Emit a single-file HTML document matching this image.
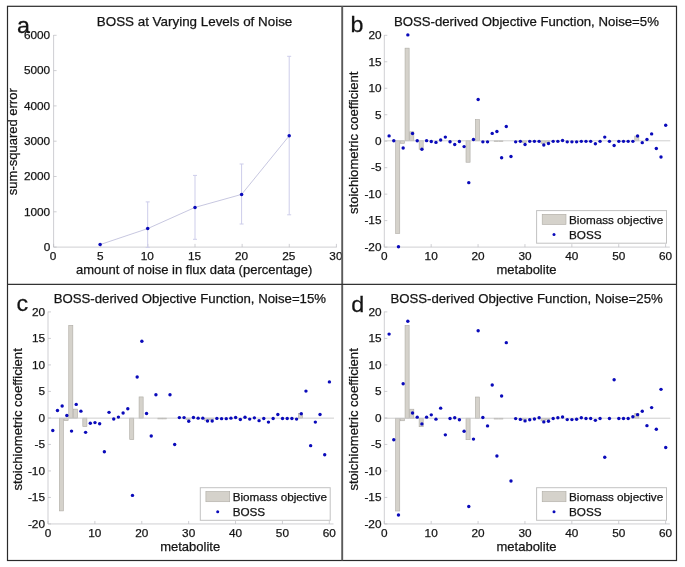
<!DOCTYPE html>
<html lang="en">
<head>
<meta charset="utf-8">
<title>BOSS at Varying Levels of Noise</title>
<style>
html,body{margin:0;padding:0;background:#fff;}
body{width:685px;height:567px;overflow:hidden;font-family:"Liberation Sans", Arial, Helvetica, sans-serif;}
svg{display:block;}
svg text{font-family:"Liberation Sans", Arial, Helvetica, sans-serif;fill:#141414;stroke:#141414;stroke-width:0.25px;}
</style>
</head>
<body>
<svg width="685" height="567" viewBox="0 0 685 567">
<rect width="685" height="567" fill="#fff"/>
<g stroke="#bfbfc4" stroke-width="0.75" fill="none">
<path d="M53.6 35.0V247.1H336.79999999999995"/>
<path d="M53.60 247.1v-3.2"/>
<path d="M100.73 247.1v-3.2"/>
<path d="M147.87 247.1v-3.2"/>
<path d="M195.00 247.1v-3.2"/>
<path d="M242.13 247.1v-3.2"/>
<path d="M289.27 247.1v-3.2"/>
<path d="M336.40 247.1v-3.2"/>
<path d="M53.6 247.10h3"/>
<path d="M53.6 211.80h3"/>
<path d="M53.6 176.50h3"/>
<path d="M53.6 141.20h3"/>
<path d="M53.6 105.90h3"/>
<path d="M53.6 70.60h3"/>
<path d="M53.6 35.30h3"/>
</g>
<text x="53.10" y="259.80" font-size="11.8" text-anchor="middle" >0</text>
<text x="100.23" y="259.80" font-size="11.8" text-anchor="middle" >5</text>
<text x="147.37" y="259.80" font-size="11.8" text-anchor="middle" >10</text>
<text x="194.50" y="259.80" font-size="11.8" text-anchor="middle" >15</text>
<text x="241.63" y="259.80" font-size="11.8" text-anchor="middle" >20</text>
<text x="288.77" y="259.80" font-size="11.8" text-anchor="middle" >25</text>
<text x="335.90" y="259.80" font-size="11.8" text-anchor="middle" >30</text>
<text x="50.20" y="250.90" font-size="11.8" text-anchor="end" >0</text>
<text x="50.20" y="215.60" font-size="11.8" text-anchor="end" >1000</text>
<text x="50.20" y="180.30" font-size="11.8" text-anchor="end" >2000</text>
<text x="50.20" y="145.00" font-size="11.8" text-anchor="end" >3000</text>
<text x="50.20" y="109.70" font-size="11.8" text-anchor="end" >4000</text>
<text x="50.20" y="74.40" font-size="11.8" text-anchor="end" >5000</text>
<text x="50.20" y="39.10" font-size="11.8" text-anchor="end" >6000</text>
<text x="96.80" y="26.20" font-size="13.4" text-anchor="start" >BOSS at Varying Levels of Noise</text>
<text x="76.00" y="274.10" font-size="13.0" text-anchor="start" >amount of noise in flux data (percentage)</text>
<text transform="translate(17.10 141.70) rotate(-90)" font-size="13.0" text-anchor="middle">sum-squared error</text>
<g stroke="#cdcdea" stroke-width="1" fill="none">
<polyline points="100.1,244.6 147.7,228.6 195.0,207.4 241.6,194.4 289.2,135.8" stroke="#b4b4d6" stroke-width="0.75"/>
<path d="M147.7 201.9V247.4M145.7 201.9h4.0M145.7 247.4h4.0"/>
<path d="M195.0 175.4V239.3M193.0 175.4h4.0M193.0 239.3h4.0"/>
<path d="M241.6 164.0V224.0M239.6 164.0h4.0M239.6 224.0h4.0"/>
<path d="M289.2 56.3V214.8M287.2 56.3h4.0M287.2 214.8h4.0"/>
</g>
<circle cx="100.1" cy="244.6" r="1.75" fill="#0a0aba"/>
<circle cx="147.7" cy="228.6" r="1.75" fill="#0a0aba"/>
<circle cx="195.0" cy="207.4" r="1.75" fill="#0a0aba"/>
<circle cx="241.6" cy="194.4" r="1.75" fill="#0a0aba"/>
<circle cx="289.2" cy="135.8" r="1.75" fill="#0a0aba"/>
<g font-family='"Liberation Sans", Arial, Helvetica, sans-serif' fill="#141414">
<g fill="#d5d2cb" stroke="#aeaba4" stroke-width="0.6">
<rect x="395.67" y="140.80" width="4.09" height="92.66"/>
<rect x="400.36" y="140.80" width="4.09" height="2.54"/>
<rect x="405.05" y="48.14" width="4.09" height="92.66"/>
<rect x="409.74" y="131.80" width="4.09" height="9.00"/>
<rect x="419.11" y="140.80" width="4.09" height="8.47"/>
<rect x="466.00" y="140.80" width="4.09" height="21.44"/>
<rect x="475.37" y="119.62" width="4.09" height="21.18"/>
<rect x="494.13" y="140.80" width="4.09" height="0.79"/>
<rect x="498.81" y="140.80" width="4.09" height="0.79"/>
<rect x="522.26" y="140.80" width="4.09" height="1.59"/>
<rect x="541.01" y="140.80" width="4.09" height="2.65"/>
<rect x="545.70" y="140.80" width="4.09" height="1.59"/>
<rect x="634.78" y="136.03" width="4.09" height="4.77"/>
</g>
<path d="M384.3 140.80H670.29" stroke="#cacaca" stroke-width="0.9" fill="none"/>
<g stroke="#bfbfc4" stroke-width="0.75" fill="none">
<path d="M384.3 35.0V247.1H669.80"/>
<path d="M384.30 247.1v-3"/>
<path d="M431.18 247.1v-3"/>
<path d="M478.07 247.1v-3"/>
<path d="M524.95 247.1v-3"/>
<path d="M571.83 247.1v-3"/>
<path d="M618.72 247.1v-3"/>
<path d="M665.60 247.1v-3"/>
<path d="M384.3 247.10h3"/>
<path d="M384.3 220.62h3"/>
<path d="M384.3 194.15h3"/>
<path d="M384.3 167.68h3"/>
<path d="M384.3 141.20h3"/>
<path d="M384.3 114.72h3"/>
<path d="M384.3 88.25h3"/>
<path d="M384.3 61.77h3"/>
<path d="M384.3 35.30h3"/>
</g>
<text x="384.30" y="259.70" font-size="11.8" text-anchor="middle" >0</text>
<text x="431.18" y="259.70" font-size="11.8" text-anchor="middle" >10</text>
<text x="478.07" y="259.70" font-size="11.8" text-anchor="middle" >20</text>
<text x="524.95" y="259.70" font-size="11.8" text-anchor="middle" >30</text>
<text x="571.83" y="259.70" font-size="11.8" text-anchor="middle" >40</text>
<text x="618.72" y="259.70" font-size="11.8" text-anchor="middle" >50</text>
<text x="665.60" y="259.70" font-size="11.8" text-anchor="middle" >60</text>
<text x="381.50" y="250.90" font-size="11.8" text-anchor="end" >-20</text>
<text x="381.50" y="224.43" font-size="11.8" text-anchor="end" >-15</text>
<text x="381.50" y="197.95" font-size="11.8" text-anchor="end" >-10</text>
<text x="381.50" y="171.48" font-size="11.8" text-anchor="end" >-5</text>
<text x="381.50" y="145.00" font-size="11.8" text-anchor="end" >0</text>
<text x="381.50" y="118.52" font-size="11.8" text-anchor="end" >5</text>
<text x="381.50" y="92.05" font-size="11.8" text-anchor="end" >10</text>
<text x="381.50" y="65.58" font-size="11.8" text-anchor="end" >15</text>
<text x="381.50" y="39.10" font-size="11.8" text-anchor="end" >20</text>
<g fill="#0a0aba">
<circle cx="389.09" cy="135.88" r="1.7"/>
<circle cx="393.78" cy="140.80" r="1.7"/>
<circle cx="398.47" cy="246.70" r="1.7"/>
<circle cx="403.15" cy="147.95" r="1.7"/>
<circle cx="407.84" cy="34.90" r="1.7"/>
<circle cx="412.53" cy="133.49" r="1.7"/>
<circle cx="417.22" cy="140.80" r="1.7"/>
<circle cx="421.91" cy="149.27" r="1.7"/>
<circle cx="426.60" cy="140.64" r="1.7"/>
<circle cx="431.28" cy="141.44" r="1.7"/>
<circle cx="435.97" cy="142.39" r="1.7"/>
<circle cx="440.66" cy="140.01" r="1.7"/>
<circle cx="445.35" cy="137.09" r="1.7"/>
<circle cx="450.04" cy="141.75" r="1.7"/>
<circle cx="454.73" cy="144.51" r="1.7"/>
<circle cx="459.41" cy="141.44" r="1.7"/>
<circle cx="464.10" cy="146.62" r="1.7"/>
<circle cx="468.79" cy="182.63" r="1.7"/>
<circle cx="473.48" cy="139.53" r="1.7"/>
<circle cx="478.17" cy="99.50" r="1.7"/>
<circle cx="482.86" cy="141.86" r="1.7"/>
<circle cx="487.54" cy="141.86" r="1.7"/>
<circle cx="492.23" cy="133.39" r="1.7"/>
<circle cx="496.92" cy="131.53" r="1.7"/>
<circle cx="501.61" cy="157.74" r="1.7"/>
<circle cx="506.30" cy="126.50" r="1.7"/>
<circle cx="510.99" cy="156.53" r="1.7"/>
<circle cx="515.67" cy="141.86" r="1.7"/>
<circle cx="520.36" cy="141.33" r="1.7"/>
<circle cx="525.05" cy="144.51" r="1.7"/>
<circle cx="529.74" cy="141.33" r="1.7"/>
<circle cx="534.43" cy="141.33" r="1.7"/>
<circle cx="539.12" cy="141.33" r="1.7"/>
<circle cx="543.80" cy="145.04" r="1.7"/>
<circle cx="548.49" cy="143.45" r="1.7"/>
<circle cx="553.18" cy="141.33" r="1.7"/>
<circle cx="557.87" cy="141.33" r="1.7"/>
<circle cx="562.56" cy="140.54" r="1.7"/>
<circle cx="567.25" cy="141.86" r="1.7"/>
<circle cx="571.93" cy="141.86" r="1.7"/>
<circle cx="576.62" cy="141.86" r="1.7"/>
<circle cx="581.31" cy="141.33" r="1.7"/>
<circle cx="586.00" cy="141.33" r="1.7"/>
<circle cx="590.69" cy="141.33" r="1.7"/>
<circle cx="595.38" cy="143.71" r="1.7"/>
<circle cx="600.06" cy="141.33" r="1.7"/>
<circle cx="604.75" cy="137.09" r="1.7"/>
<circle cx="609.44" cy="141.33" r="1.7"/>
<circle cx="614.13" cy="145.57" r="1.7"/>
<circle cx="618.82" cy="141.33" r="1.7"/>
<circle cx="623.50" cy="141.33" r="1.7"/>
<circle cx="628.19" cy="141.33" r="1.7"/>
<circle cx="632.88" cy="141.33" r="1.7"/>
<circle cx="637.57" cy="136.03" r="1.7"/>
<circle cx="642.26" cy="142.65" r="1.7"/>
<circle cx="646.95" cy="139.48" r="1.7"/>
<circle cx="651.64" cy="133.92" r="1.7"/>
<circle cx="656.32" cy="148.48" r="1.7"/>
<circle cx="661.01" cy="156.95" r="1.7"/>
<circle cx="665.70" cy="125.18" r="1.7"/>
</g>
<rect x="536.60" y="210.60" width="129.9" height="32.6" fill="#fff" stroke="#c2c2c2" stroke-width="1"/>
<rect x="542.20" y="214.30" width="23.8" height="10.2" fill="#d5d2cb" stroke="#aeaba4" stroke-width="0.6"/>
<circle cx="554.00" cy="234.60" r="1.5" fill="#0a0aba"/>
<text x="569.00" y="223.80" font-size="11.7" text-anchor="start" >Biomass objective</text>
<text x="569.00" y="238.90" font-size="11.7" text-anchor="start" >BOSS</text>
<text x="393.90" y="26.20" font-size="13.2" text-anchor="start" >BOSS-derived Objective Function, Noise=5%</text>
<text x="526.50" y="274.20" font-size="13.0" text-anchor="middle" >metabolite</text>
<text transform="translate(358.40 142.80) rotate(-90)" font-size="13.1" text-anchor="middle">stoichiometric coefficient</text>
<text transform="translate(350.60 31.90) scale(1.06 1)" font-size="22">b</text>
<g fill="#d5d2cb" stroke="#aeaba4" stroke-width="0.6">
<rect x="59.37" y="418.13" width="4.09" height="92.77"/>
<rect x="64.06" y="418.13" width="4.09" height="2.54"/>
<rect x="68.75" y="325.35" width="4.09" height="92.77"/>
<rect x="73.44" y="409.11" width="4.09" height="9.01"/>
<rect x="82.81" y="418.13" width="4.09" height="8.48"/>
<rect x="129.70" y="418.13" width="4.09" height="21.47"/>
<rect x="139.07" y="396.92" width="4.09" height="21.21"/>
<rect x="157.83" y="418.13" width="4.09" height="0.80"/>
<rect x="162.51" y="418.13" width="4.09" height="0.80"/>
<rect x="185.96" y="418.13" width="4.09" height="1.59"/>
<rect x="204.71" y="418.13" width="4.09" height="2.65"/>
<rect x="209.40" y="418.13" width="4.09" height="1.59"/>
<rect x="298.48" y="413.35" width="4.09" height="4.77"/>
</g>
<path d="M48.0 418.13H333.99" stroke="#cacaca" stroke-width="0.9" fill="none"/>
<g stroke="#bfbfc4" stroke-width="0.75" fill="none">
<path d="M48.0 311.6V523.95H333.50"/>
<path d="M48.00 523.95v-3"/>
<path d="M94.88 523.95v-3"/>
<path d="M141.77 523.95v-3"/>
<path d="M188.65 523.95v-3"/>
<path d="M235.53 523.95v-3"/>
<path d="M282.42 523.95v-3"/>
<path d="M329.30 523.95v-3"/>
<path d="M48.0 523.95h3"/>
<path d="M48.0 497.44h3"/>
<path d="M48.0 470.94h3"/>
<path d="M48.0 444.43h3"/>
<path d="M48.0 417.93h3"/>
<path d="M48.0 391.42h3"/>
<path d="M48.0 364.91h3"/>
<path d="M48.0 338.41h3"/>
<path d="M48.0 311.90h3"/>
</g>
<text x="48.00" y="536.62" font-size="11.8" text-anchor="middle" >0</text>
<text x="94.88" y="536.62" font-size="11.8" text-anchor="middle" >10</text>
<text x="141.77" y="536.62" font-size="11.8" text-anchor="middle" >20</text>
<text x="188.65" y="536.62" font-size="11.8" text-anchor="middle" >30</text>
<text x="235.53" y="536.62" font-size="11.8" text-anchor="middle" >40</text>
<text x="282.42" y="536.62" font-size="11.8" text-anchor="middle" >50</text>
<text x="329.30" y="536.62" font-size="11.8" text-anchor="middle" >60</text>
<text x="45.00" y="527.75" font-size="11.8" text-anchor="end" >-20</text>
<text x="45.00" y="501.24" font-size="11.8" text-anchor="end" >-15</text>
<text x="45.00" y="474.74" font-size="11.8" text-anchor="end" >-10</text>
<text x="45.00" y="448.23" font-size="11.8" text-anchor="end" >-5</text>
<text x="45.00" y="421.73" font-size="11.8" text-anchor="end" >0</text>
<text x="45.00" y="395.22" font-size="11.8" text-anchor="end" >5</text>
<text x="45.00" y="368.71" font-size="11.8" text-anchor="end" >10</text>
<text x="45.00" y="342.21" font-size="11.8" text-anchor="end" >15</text>
<text x="45.00" y="315.70" font-size="11.8" text-anchor="end" >20</text>
<g fill="#0a0aba">
<circle cx="52.79" cy="430.48" r="1.7"/>
<circle cx="57.48" cy="410.49" r="1.7"/>
<circle cx="62.16" cy="406.04" r="1.7"/>
<circle cx="66.85" cy="415.47" r="1.7"/>
<circle cx="71.54" cy="431.11" r="1.7"/>
<circle cx="76.23" cy="404.39" r="1.7"/>
<circle cx="80.92" cy="411.13" r="1.7"/>
<circle cx="85.61" cy="432.33" r="1.7"/>
<circle cx="90.30" cy="423.21" r="1.7"/>
<circle cx="94.98" cy="422.58" r="1.7"/>
<circle cx="99.67" cy="423.80" r="1.7"/>
<circle cx="104.36" cy="451.79" r="1.7"/>
<circle cx="109.05" cy="412.35" r="1.7"/>
<circle cx="113.74" cy="419.03" r="1.7"/>
<circle cx="118.42" cy="417.12" r="1.7"/>
<circle cx="123.11" cy="412.93" r="1.7"/>
<circle cx="127.80" cy="408.69" r="1.7"/>
<circle cx="132.49" cy="495.42" r="1.7"/>
<circle cx="137.18" cy="377.04" r="1.7"/>
<circle cx="141.87" cy="341.26" r="1.7"/>
<circle cx="146.55" cy="413.57" r="1.7"/>
<circle cx="151.24" cy="435.99" r="1.7"/>
<circle cx="155.93" cy="394.69" r="1.7"/>
<circle cx="170.00" cy="394.69" r="1.7"/>
<circle cx="174.69" cy="444.53" r="1.7"/>
<circle cx="179.37" cy="417.59" r="1.7"/>
<circle cx="184.06" cy="417.59" r="1.7"/>
<circle cx="188.75" cy="421.31" r="1.7"/>
<circle cx="193.44" cy="417.44" r="1.7"/>
<circle cx="198.13" cy="418.13" r="1.7"/>
<circle cx="202.81" cy="418.13" r="1.7"/>
<circle cx="207.50" cy="420.93" r="1.7"/>
<circle cx="212.19" cy="420.93" r="1.7"/>
<circle cx="216.88" cy="418.39" r="1.7"/>
<circle cx="221.57" cy="418.66" r="1.7"/>
<circle cx="226.26" cy="418.66" r="1.7"/>
<circle cx="230.94" cy="418.13" r="1.7"/>
<circle cx="235.63" cy="417.44" r="1.7"/>
<circle cx="240.32" cy="419.45" r="1.7"/>
<circle cx="245.01" cy="417.22" r="1.7"/>
<circle cx="249.70" cy="419.08" r="1.7"/>
<circle cx="254.39" cy="417.86" r="1.7"/>
<circle cx="259.08" cy="420.67" r="1.7"/>
<circle cx="263.76" cy="418.44" r="1.7"/>
<circle cx="268.45" cy="422.10" r="1.7"/>
<circle cx="273.14" cy="418.44" r="1.7"/>
<circle cx="277.83" cy="414.57" r="1.7"/>
<circle cx="282.52" cy="418.44" r="1.7"/>
<circle cx="287.21" cy="418.44" r="1.7"/>
<circle cx="291.89" cy="418.44" r="1.7"/>
<circle cx="296.58" cy="419.08" r="1.7"/>
<circle cx="301.27" cy="413.78" r="1.7"/>
<circle cx="305.96" cy="391.09" r="1.7"/>
<circle cx="310.65" cy="445.64" r="1.7"/>
<circle cx="315.34" cy="422.10" r="1.7"/>
<circle cx="320.02" cy="414.57" r="1.7"/>
<circle cx="324.71" cy="454.76" r="1.7"/>
<circle cx="329.40" cy="381.92" r="1.7"/>
</g>
<rect x="200.30" y="487.70" width="129.9" height="32.6" fill="#fff" stroke="#c2c2c2" stroke-width="1"/>
<rect x="205.90" y="491.53" width="23.8" height="10.2" fill="#d5d2cb" stroke="#aeaba4" stroke-width="0.6"/>
<circle cx="217.70" cy="511.74" r="1.5" fill="#0a0aba"/>
<text x="232.70" y="500.94" font-size="11.7" text-anchor="start" >Biomass objective</text>
<text x="232.70" y="515.68" font-size="11.7" text-anchor="start" >BOSS</text>
<text x="53.70" y="302.80" font-size="13.2" text-anchor="start" >BOSS-derived Objective Function, Noise=15%</text>
<text x="190.20" y="550.80" font-size="13.0" text-anchor="middle" >metabolite</text>
<text transform="translate(22.10 419.40) rotate(-90)" font-size="13.1" text-anchor="middle">stoichiometric coefficient</text>
<text transform="translate(16.60 310.70) scale(1.06 1)" font-size="22">c</text>
<g fill="#d5d2cb" stroke="#aeaba4" stroke-width="0.6">
<rect x="395.67" y="418.23" width="4.09" height="92.77"/>
<rect x="400.36" y="418.23" width="4.09" height="2.54"/>
<rect x="405.05" y="325.45" width="4.09" height="92.77"/>
<rect x="409.74" y="409.21" width="4.09" height="9.01"/>
<rect x="419.11" y="418.23" width="4.09" height="8.48"/>
<rect x="466.00" y="418.23" width="4.09" height="21.47"/>
<rect x="475.37" y="397.02" width="4.09" height="21.21"/>
<rect x="494.13" y="418.23" width="4.09" height="0.80"/>
<rect x="498.81" y="418.23" width="4.09" height="0.80"/>
<rect x="522.26" y="418.23" width="4.09" height="1.59"/>
<rect x="541.01" y="418.23" width="4.09" height="2.65"/>
<rect x="545.70" y="418.23" width="4.09" height="1.59"/>
<rect x="634.78" y="413.45" width="4.09" height="4.77"/>
</g>
<path d="M384.3 418.23H670.29" stroke="#cacaca" stroke-width="0.9" fill="none"/>
<g stroke="#bfbfc4" stroke-width="0.75" fill="none">
<path d="M384.3 311.6V523.95H669.80"/>
<path d="M384.30 523.95v-3"/>
<path d="M431.18 523.95v-3"/>
<path d="M478.07 523.95v-3"/>
<path d="M524.95 523.95v-3"/>
<path d="M571.83 523.95v-3"/>
<path d="M618.72 523.95v-3"/>
<path d="M665.60 523.95v-3"/>
<path d="M384.3 523.95h3"/>
<path d="M384.3 497.44h3"/>
<path d="M384.3 470.94h3"/>
<path d="M384.3 444.43h3"/>
<path d="M384.3 417.93h3"/>
<path d="M384.3 391.42h3"/>
<path d="M384.3 364.91h3"/>
<path d="M384.3 338.41h3"/>
<path d="M384.3 311.90h3"/>
</g>
<text x="384.30" y="536.62" font-size="11.8" text-anchor="middle" >0</text>
<text x="431.18" y="536.62" font-size="11.8" text-anchor="middle" >10</text>
<text x="478.07" y="536.62" font-size="11.8" text-anchor="middle" >20</text>
<text x="524.95" y="536.62" font-size="11.8" text-anchor="middle" >30</text>
<text x="571.83" y="536.62" font-size="11.8" text-anchor="middle" >40</text>
<text x="618.72" y="536.62" font-size="11.8" text-anchor="middle" >50</text>
<text x="665.60" y="536.62" font-size="11.8" text-anchor="middle" >60</text>
<text x="381.50" y="527.75" font-size="11.8" text-anchor="end" >-20</text>
<text x="381.50" y="501.24" font-size="11.8" text-anchor="end" >-15</text>
<text x="381.50" y="474.74" font-size="11.8" text-anchor="end" >-10</text>
<text x="381.50" y="448.23" font-size="11.8" text-anchor="end" >-5</text>
<text x="381.50" y="421.73" font-size="11.8" text-anchor="end" >0</text>
<text x="381.50" y="395.22" font-size="11.8" text-anchor="end" >5</text>
<text x="381.50" y="368.71" font-size="11.8" text-anchor="end" >10</text>
<text x="381.50" y="342.21" font-size="11.8" text-anchor="end" >15</text>
<text x="381.50" y="315.70" font-size="11.8" text-anchor="end" >20</text>
<g fill="#0a0aba">
<circle cx="389.09" cy="334.09" r="1.7"/>
<circle cx="393.78" cy="439.75" r="1.7"/>
<circle cx="398.47" cy="514.97" r="1.7"/>
<circle cx="403.15" cy="383.82" r="1.7"/>
<circle cx="407.84" cy="321.32" r="1.7"/>
<circle cx="412.53" cy="413.03" r="1.7"/>
<circle cx="417.22" cy="417.16" r="1.7"/>
<circle cx="421.91" cy="423.90" r="1.7"/>
<circle cx="426.60" cy="417.16" r="1.7"/>
<circle cx="431.28" cy="414.83" r="1.7"/>
<circle cx="435.97" cy="419.13" r="1.7"/>
<circle cx="440.66" cy="408.15" r="1.7"/>
<circle cx="445.35" cy="434.87" r="1.7"/>
<circle cx="450.04" cy="418.49" r="1.7"/>
<circle cx="454.73" cy="417.69" r="1.7"/>
<circle cx="459.41" cy="419.82" r="1.7"/>
<circle cx="464.10" cy="431.21" r="1.7"/>
<circle cx="468.79" cy="506.49" r="1.7"/>
<circle cx="473.48" cy="439.11" r="1.7"/>
<circle cx="478.17" cy="330.75" r="1.7"/>
<circle cx="482.86" cy="417.48" r="1.7"/>
<circle cx="487.54" cy="425.91" r="1.7"/>
<circle cx="492.23" cy="385.04" r="1.7"/>
<circle cx="496.92" cy="455.97" r="1.7"/>
<circle cx="501.61" cy="396.01" r="1.7"/>
<circle cx="506.30" cy="342.63" r="1.7"/>
<circle cx="510.99" cy="480.94" r="1.7"/>
<circle cx="515.67" cy="418.60" r="1.7"/>
<circle cx="520.36" cy="419.39" r="1.7"/>
<circle cx="525.05" cy="420.88" r="1.7"/>
<circle cx="529.74" cy="419.71" r="1.7"/>
<circle cx="534.43" cy="418.97" r="1.7"/>
<circle cx="539.12" cy="417.69" r="1.7"/>
<circle cx="543.80" cy="421.88" r="1.7"/>
<circle cx="548.49" cy="421.25" r="1.7"/>
<circle cx="553.18" cy="418.44" r="1.7"/>
<circle cx="557.87" cy="417.75" r="1.7"/>
<circle cx="562.56" cy="417.06" r="1.7"/>
<circle cx="567.25" cy="419.60" r="1.7"/>
<circle cx="571.93" cy="419.60" r="1.7"/>
<circle cx="576.62" cy="419.29" r="1.7"/>
<circle cx="581.31" cy="417.75" r="1.7"/>
<circle cx="586.00" cy="418.54" r="1.7"/>
<circle cx="590.69" cy="418.54" r="1.7"/>
<circle cx="595.38" cy="420.35" r="1.7"/>
<circle cx="600.06" cy="418.54" r="1.7"/>
<circle cx="604.75" cy="457.30" r="1.7"/>
<circle cx="609.44" cy="418.54" r="1.7"/>
<circle cx="614.13" cy="379.79" r="1.7"/>
<circle cx="618.82" cy="418.54" r="1.7"/>
<circle cx="623.50" cy="418.54" r="1.7"/>
<circle cx="628.19" cy="418.54" r="1.7"/>
<circle cx="632.88" cy="416.74" r="1.7"/>
<circle cx="637.57" cy="414.67" r="1.7"/>
<circle cx="642.26" cy="411.23" r="1.7"/>
<circle cx="646.95" cy="425.65" r="1.7"/>
<circle cx="651.64" cy="407.62" r="1.7"/>
<circle cx="656.32" cy="429.30" r="1.7"/>
<circle cx="661.01" cy="389.33" r="1.7"/>
<circle cx="665.70" cy="447.54" r="1.7"/>
</g>
<rect x="536.60" y="487.70" width="129.9" height="32.6" fill="#fff" stroke="#c2c2c2" stroke-width="1"/>
<rect x="542.20" y="491.53" width="23.8" height="10.2" fill="#d5d2cb" stroke="#aeaba4" stroke-width="0.6"/>
<circle cx="554.00" cy="511.74" r="1.5" fill="#0a0aba"/>
<text x="569.00" y="500.94" font-size="11.7" text-anchor="start" >Biomass objective</text>
<text x="569.00" y="515.68" font-size="11.7" text-anchor="start" >BOSS</text>
<text x="390.40" y="302.80" font-size="13.2" text-anchor="start" >BOSS-derived Objective Function, Noise=25%</text>
<text x="526.50" y="550.80" font-size="13.0" text-anchor="middle" >metabolite</text>
<text transform="translate(358.20 419.40) rotate(-90)" font-size="13.1" text-anchor="middle">stoichiometric coefficient</text>
<text transform="translate(351.30 311.80) scale(1.06 1)" font-size="22">d</text>
<text transform="translate(16.9 32.5) scale(1.06 1)" font-size="22">a</text>
</g>
<rect x="7.5" y="6.3" width="669.0" height="554.2" fill="none" stroke="#2a2a2a" stroke-width="1.2"/>
<path d="M342.2 6.3V560.5" stroke="#5a5a5a" stroke-width="1.9" fill="none"/>
<path d="M7.5 284.4H676.5" stroke="#333" stroke-width="1.1" fill="none"/>
</svg>
</body>
</html>
